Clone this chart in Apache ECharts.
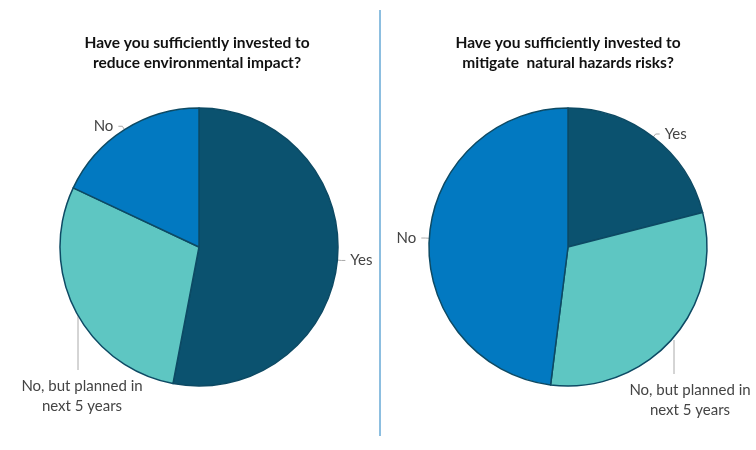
<!DOCTYPE html>
<html><head><meta charset="utf-8">
<script src="https://cdn.jsdelivr.net/npm/echarts@6/dist/echarts.min.js"></script>
<style>html,body{margin:0;padding:0;background:#fff}#c{width:756px;height:450px}</style>
</head><body><div id="c"></div>
<script>
const categories = ['Yes', 'No, but planned in\nnext 5 years', 'No'];
const leftValues = [53, 29, 18];
const rightValues = [21, 31, 48];
const leftTitle = 'Have you sufficiently invested to\nreduce environmental impact?';
const rightTitle = 'Have you sufficiently invested to\nmitigate  natural hazards risks?';
const colors = ['#0b526f', '#5ec6c2', '#0279c1'];

const chart = echarts.init(document.getElementById('c'));
function pie(values, cx, plannedPos) {
  return {
    type: 'pie', center: [cx, 247], radius: 139, startAngle: 90, clockwise: true,
    data: categories.map((n, i) => ({ name: n, value: values[i] })),
    itemStyle: { borderColor: '#0d4a64', borderWidth: 1.5 },
    label: { color: '#444', fontFamily: 'Lato', fontSize: 15, lineHeight: 20, overflow: 'none' },
    labelLine: { length: 4, length2: 4, lineStyle: { color: '#aaa' } },
    labelLayout: function (p) {
      if (p.dataIndex === 1) {
        return { x: plannedPos[0], y: plannedPos[1], align: 'center', verticalAlign: 'top',
          labelLinePoints: [[plannedPos[2], plannedPos[3]], [plannedPos[2], plannedPos[1] - 6], [plannedPos[2], plannedPos[1] - 6]] };
      }
      return {};
    },
    animation: false
  };
}
chart.setOption({
  color: colors,
  title: [
    { text: leftTitle, left: 192, top: 28, textAlign: 'center',
      textStyle: { fontFamily: 'Lato', fontSize: 15.5, fontWeight: 'bold', color: '#111', lineHeight: 20 } },
    { text: rightTitle, left: 563, top: 28, textAlign: 'center',
      textStyle: { fontFamily: 'Lato', fontSize: 15.5, fontWeight: 'bold', color: '#111', lineHeight: 20 } }
  ],
  graphic: [{ type: 'line', shape: { x1: 380, y1: 10, x2: 380, y2: 436 }, style: { stroke: '#1a7fc1', lineWidth: 1 } }],
  series: [pie(leftValues, 199, [82, 376, 78, 312]), pie(rightValues, 568, [690, 380, 674, 340])]
});
</script></body></html>
